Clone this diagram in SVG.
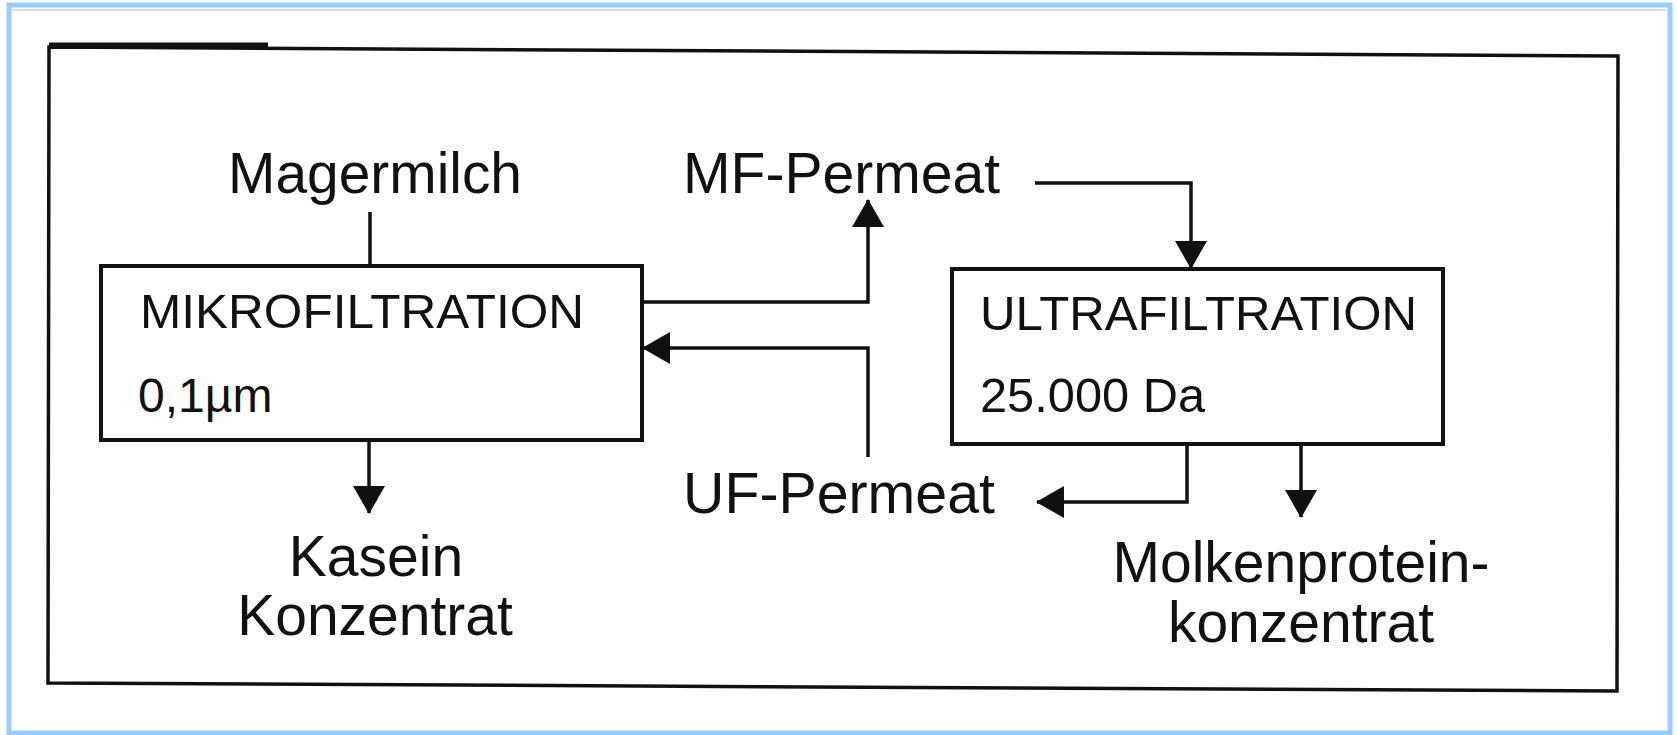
<svg xmlns="http://www.w3.org/2000/svg" width="1677" height="735" viewBox="0 0 1677 735">
  <style>
    .lbl { font-family: "Liberation Sans", Arial, sans-serif; font-size: 57px; fill: #111; }
    .box-t { font-family: "Liberation Sans", Arial, sans-serif; font-size: 48px; fill: #111; }
    .box { fill: #fff; stroke: #111; stroke-width: 4; }
    .conn { fill: none; stroke: #111; stroke-width: 3.5; }
  </style>
  <defs>
    <marker id="arr" viewBox="0 0 28 32" refX="27" refY="16" markerWidth="28" markerHeight="32" markerUnits="userSpaceOnUse" orient="auto">
      <path d="M0,0 L28,16 L0,32 z" fill="#111"/>
    </marker>
  </defs>

  <rect x="0" y="0" width="1677" height="735" fill="#fff"/>
  <g id="frame">
    <rect x="9" y="5" width="1661" height="728" fill="none" stroke="#99ccff" stroke-width="5"/>
    <line x1="12" y1="10" x2="1666" y2="10" stroke="#dddddd" stroke-width="2"/>
    <polygon points="49,47 1618,56 1617,691 48,683" fill="none" stroke="#111" stroke-width="3.5"/>
    <line x1="49" y1="45" x2="268" y2="45" stroke="#111" stroke-width="5"/>
  </g>

  <g id="connectors">
    <path class="conn" d="M370,212 V266"/>
    <path class="conn" d="M642,302 H868 V200" marker-end="url(#arr)"/>
    <path class="conn" d="M868,457 V348 H643" marker-end="url(#arr)"/>
    <path class="conn" d="M1035,183 H1191 V268" marker-end="url(#arr)"/>
    <path class="conn" d="M1187,444 V502 H1037" marker-end="url(#arr)"/>
    <path class="conn" d="M1301,446 V517" marker-end="url(#arr)"/>
    <path class="conn" d="M369,440 V513" marker-end="url(#arr)"/>
  </g>

  <g id="magermilch">
    <text class="lbl" x="228" y="193" textLength="294" lengthAdjust="spacingAndGlyphs">Magermilch</text>
  </g>

  <g id="mikrofiltration">
    <rect class="box" x="101" y="266" width="541" height="174"/>
    <text class="box-t" x="140" y="328" textLength="444" lengthAdjust="spacingAndGlyphs">MIKROFILTRATION</text>
    <text class="box-t" x="138" y="412">0,1µm</text>
  </g>

  <g id="mf-permeat">
    <text class="lbl" x="683" y="193" textLength="317" lengthAdjust="spacingAndGlyphs">MF-Permeat</text>
  </g>

  <g id="uf-permeat">
    <text class="lbl" x="683" y="513" textLength="312" lengthAdjust="spacingAndGlyphs">UF-Permeat</text>
  </g>

  <g id="ultrafiltration">
    <rect class="box" x="952" y="269" width="491" height="175"/>
    <text class="box-t" x="980" y="330" textLength="437" lengthAdjust="spacingAndGlyphs">ULTRAFILTRATION</text>
    <text class="box-t" x="980" y="412" textLength="225" lengthAdjust="spacingAndGlyphs">25.000 Da</text>
  </g>

  <g id="kasein">
    <text class="lbl" x="376" y="576" text-anchor="middle">Kasein</text>
    <text class="lbl" x="375" y="635" text-anchor="middle">Konzentrat</text>
  </g>

  <g id="molkenprotein">
    <text class="lbl" x="1301" y="582" text-anchor="middle">Molkenprotein-</text>
    <text class="lbl" x="1301" y="642" text-anchor="middle">konzentrat</text>
  </g>
</svg>
